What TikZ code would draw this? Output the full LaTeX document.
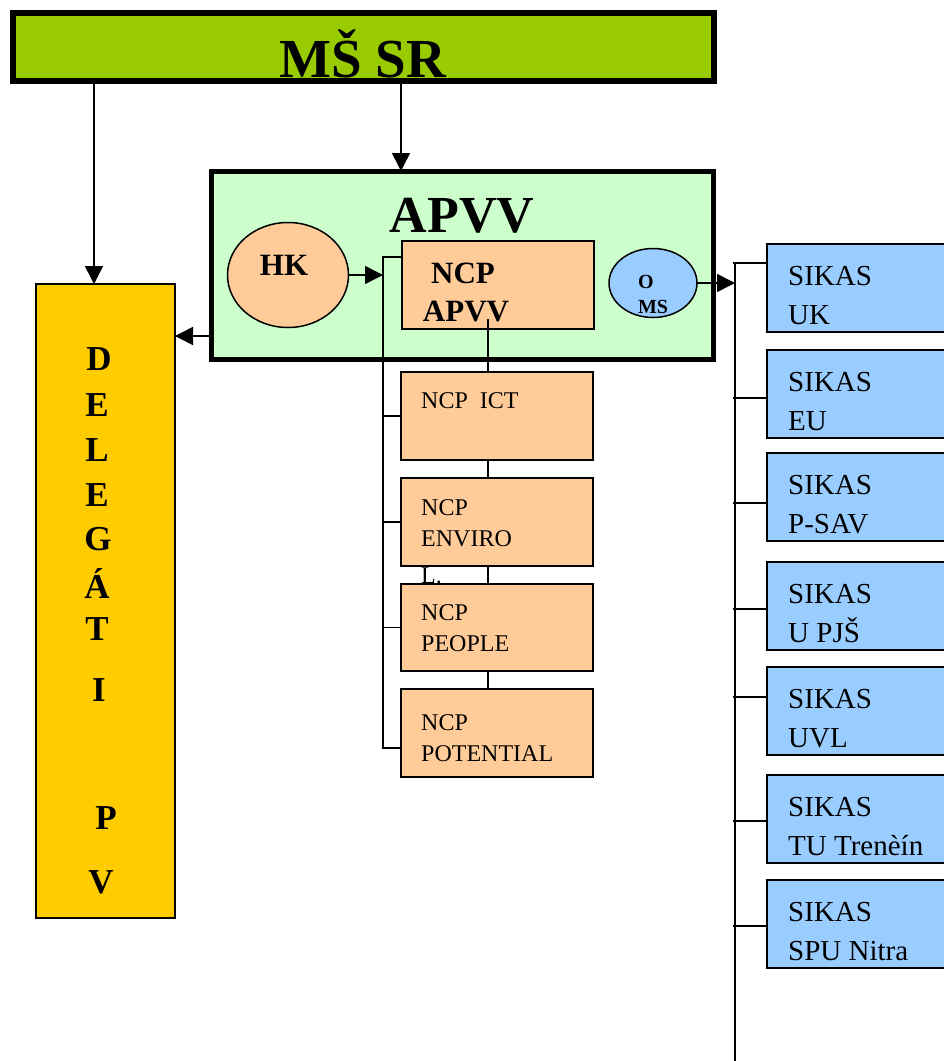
\documentclass[tikz,border=0pt]{standalone}
\usepackage{fontspec}
\setmainfont{Liberation Serif}
\usetikzlibrary{arrows.meta,shapes.geometric}
\definecolor{msgreen}{HTML}{99CC00}
\definecolor{apgreen}{HTML}{CCFFCC}
\definecolor{peach}{HTML}{FFCC99}
\definecolor{lblue}{HTML}{99CCFF}
\definecolor{gold}{HTML}{FFCC00}
\newcommand\fsz[1]{\fontsize{#1}{#1}\selectfont}
\begin{document}
\begin{tikzpicture}[x=1pt,y=-1pt,
  conn/.style={line width=1.5pt},
  tip/.style={-{Triangle[length=18pt,width=18pt]}},
  frame/.style={draw, line width=1.5pt, rectangle, inner sep=0pt, outer sep=0pt, anchor=north west},
  oval/.style={draw, line width=1.5pt, ellipse, inner sep=0pt, outer sep=0pt},
  lbl/.style={inner sep=0pt, anchor=base},
  lblw/.style={inner sep=0pt, anchor=base west},
]
\useasboundingbox (0,0) rectangle (944,1061);
\clip (0,0) rectangle (944,1061);

% top ministry box
\node[frame, fill=msgreen, line width=6pt, minimum width=701, minimum height=68] (ms) at (13,13) {};
\node[lbl, font=\bfseries\fsz{55}] (mst) at (363,77) {MŠ SR};

% APVV frame
\node[frame, fill=apgreen, line width=5pt, minimum width=502, minimum height=188] (apvv) at (211,171) {};
\node[lbl, font=\bfseries\fsz{52}] (apvvt) at (462,232) {APVV};

% DELEGATI box
\node[frame, fill=gold, minimum width=139, minimum height=634] (del) at (36,284) {};
\foreach \ch/\xx/\yy [count=\i] in {D/99/370, E/97/416, L/97/461, E/97/506, G/98/550, Á/97/598, T/97/640, I/99/701, P/106/829, V/101/893}
  \node[lbl, font=\bfseries\fsz{35}] (d\i) at (\xx,\yy) {\ch};

% HK and OMS ovals
\node[oval, fill=peach, minimum width=121, minimum height=105] (hk) at (288,275) {};
\node[lbl, font=\bfseries\fsz{31}] (hkt) at (284,275) {HK};
\node[oval, fill=lblue, minimum width=88, minimum height=69] (oms) at (653,283) {};
\node[lbl, font=\bfseries\fsz{20}] (omso) at (646,288) {O};
\node[lbl, font=\bfseries\fsz{20}] (omsm) at (653,313) {MS};

% NCP APVV
\node[frame, fill=peach, minimum width=192, minimum height=88] (ncpapvv) at (402,241) {};
\node[lbl, font=\bfseries\fsz{31}] (ncpt1) at (463,283) {NCP};
\node[lbl, font=\bfseries\fsz{31}] (ncpt2) at (466,321) {APVV};

% chain line inside NCP APVV down the column
\coordinate (cx) at (488,319);

% NCP boxes
\node[frame, fill=peach, minimum width=192, minimum height=88] (ict) at (401,372) {};
\node[lblw, font=\fsz{24}] (ictt) at (421,408) {NCP\ \ ICT};
\node[frame, fill=peach, minimum width=192, minimum height=88] (enviro) at (401,478) {};
\node[lblw, font=\fsz{24}] (envt1) at (421,515) {NCP};
\node[lblw, font=\fsz{24}] (envt2) at (421,546) {ENVIRO};
\node[lblw, font=\fsz{24}] (envt3) at (421,583) {L.};
\node[frame, fill=peach, minimum width=192, minimum height=87] (people) at (401,584) {};
\node[lblw, font=\fsz{24}] (peot1) at (421,620) {NCP};
\node[lblw, font=\fsz{24}] (peot2) at (421,651) {PEOPLE};
\node[frame, fill=peach, minimum width=192, minimum height=88] (potential) at (401,689) {};
\node[lblw, font=\fsz{24}] (pott1) at (421,730) {NCP};
\node[lblw, font=\fsz{24}] (pott2) at (421,761) {POTENTIAL};

\draw[conn] (cx) -- (cx |- ict.north);
\draw[conn] (ict.south -| cx) -- (enviro.north -| cx);
\draw[conn] (enviro.south -| cx) -- (people.north -| cx);
\draw[conn] (people.south -| cx) -- (potential.north -| cx);

% left bus of NCP column
\coordinate (bx) at (383,257);
\coordinate (bb) at (383,748);
\draw[conn] (ncpapvv.west |- bx) -- (bx) -- (bb) -- (bb -| potential.west);
\draw[conn] (bx |- ict.west) -- (ict.west);
\draw[conn] (bx |- enviro.west) -- (enviro.west);
\draw[conn] (bx |- people.west) -- (people.west);
\draw[conn,tip] (hk.east) -- (hk.east -| bx);

% arrows from ministry
\coordinate (a1) at (94,0);
\coordinate (a2) at (401,0);
\draw[conn,tip] (ms.south -| a1) -- (del.north -| a1);
\draw[conn,tip] (ms.south -| a2) -- (apvv.north -| a2);
\coordinate (a3) at (0,336);
\draw[conn,tip] (apvv.west |- a3) -- (del.east |- a3);

% right bus and SIKAS boxes
\coordinate (rx) at (735,263);
\coordinate (rb) at (735,1070);
\draw[conn] (rx) -- (rb);
\draw[conn,tip] (oms.east) -- (oms.east -| rx);
\foreach \t/\by/\sec [count=\i] in {244/263/UK, 350/398/EU, 453/503/P-SAV, 562/609/U PJŠ, 667/697/UVL, 775/821/TU Trenèín, 880/926/SPU Nitra} {
  \node[frame, fill=lblue, minimum width=200, minimum height=88] (s\i) at (767,\t) {};
  \node[lblw, font=\fsz{29}] (s\i t1) at (788,\t+41) {SIKAS};
  \node[lblw, font=\fsz{29}] (s\i t2) at (788,\t+80) {\sec};
  \coordinate (sb\i) at (733,\by);
  \draw[conn] (sb\i) -- (sb\i -| s\i.west);
}
\end{tikzpicture}
\end{document}
